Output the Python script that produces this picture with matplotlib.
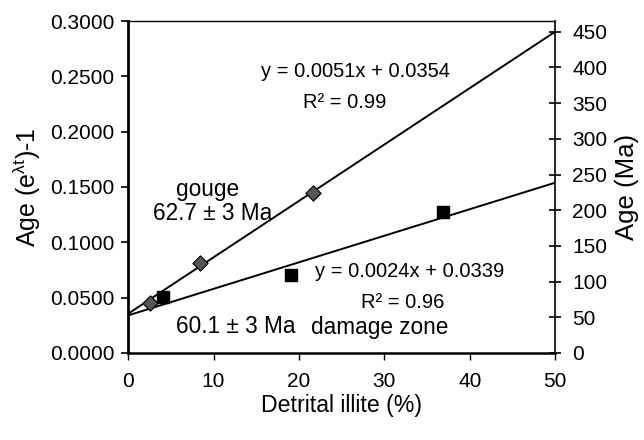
import matplotlib
matplotlib.use("Agg")
import matplotlib.pyplot as plt
import numpy as np

plt.rcParams['font.family'] = ['Liberation Sans', 'DejaVu Sans']
plt.rcParams['mathtext.fontset'] = 'custom'
plt.rcParams['mathtext.rm'] = 'Liberation Sans'
plt.rcParams['mathtext.it'] = 'Liberation Sans'

# Data
gouge_x = [2.6, 8.4, 21.7]
gouge_y = [0.045, 0.081, 0.1446]
damage_x = [4.1, 19.1, 36.9]
damage_y = [0.0506, 0.0705, 0.127]
fit_slopes = [0.0051, 0.0024]
fit_intercepts = [0.0354, 0.0339]
x_range = [0, 50]
x_ticks = [0, 10, 20, 30, 40, 50]
left_ticks = [0.0, 0.05, 0.10, 0.15, 0.20, 0.25, 0.30]
right_ticks = [0, 50, 100, 150, 200, 250, 300, 350, 400, 450]

fig = plt.figure(figsize=(6.44, 4.40), dpi=100)
ax = fig.add_axes([0.199, 0.198, 0.663, 0.754])

xl = np.array(x_range, dtype=float)
for s, b in zip(fit_slopes, fit_intercepts):
    ax.plot(xl, s * xl + b, color='black', lw=1.4, zorder=2)

ax.scatter(gouge_x, gouge_y, marker='D', s=60, color='#555555', edgecolor='black', linewidth=0.8, zorder=3)
ax.scatter(damage_x, damage_y, marker='s', s=75, color='black', zorder=3)

ax.set_xlim(0, 50)
ax.set_ylim(0, 0.3)
ax.set_xticks(x_ticks)
ax.set_yticks(left_ticks)
ax.set_yticklabels([f"{v:.4f}" for v in left_ticks])
ax.tick_params(axis='y', direction='out', length=5, width=1.2, labelsize=15, pad=5)
ax.tick_params(axis='x', direction='out', length=5, width=1.0, labelsize=15, pad=9)

ax.spines['left'].set_linewidth(2.0)
ax.spines['bottom'].set_linewidth(1.8)
ax.spines['top'].set_linewidth(1.0)
ax.spines['right'].set_linewidth(1.2)

ax.set_xlabel('Detrital illite (%)', fontsize=16.7, labelpad=2)
ax.set_ylabel(r'Age (e$^{\mathregular{\lambda t}}$)-1', fontsize=18, labelpad=5)

ax2 = ax.twinx()
ax2.set_ylim(0, 465)
ax2.set_yticks(right_ticks)
ax2.tick_params(axis='y', direction='inout', length=9, width=1.2, labelsize=15, pad=8)
ax2.set_ylabel('Age (Ma)', fontsize=18.5, labelpad=5)
for sp in ax2.spines.values():
    sp.set_visible(False)

fs_eq = 14.5
fs_lab = 16.3
ax.text(26.6, 0.2547, 'y = 0.0051x + 0.0354', fontsize=fs_eq, ha='center', va='center')
ax.text(25.4, 0.2267, 'R² = 0.99', fontsize=fs_eq, ha='center', va='center')
ax.text(9.25, 0.148, 'gouge', fontsize=fs_lab, ha='center', va='center')
ax.text(9.95, 0.1256, '62.7 ± 3 Ma', fontsize=fs_lab, ha='center', va='center')
ax.text(33.0, 0.0732, 'y = 0.0024x + 0.0339', fontsize=fs_eq, ha='center', va='center')
ax.text(32.2, 0.046, 'R² = 0.96', fontsize=fs_eq, ha='center', va='center')
ax.text(29.5, 0.0226, 'damage zone', fontsize=fs_lab, ha='center', va='center')
ax.text(12.65, 0.0235, '60.1 ± 3 Ma', fontsize=fs_lab, ha='center', va='center')

fig.savefig('out.png', dpi=100)
